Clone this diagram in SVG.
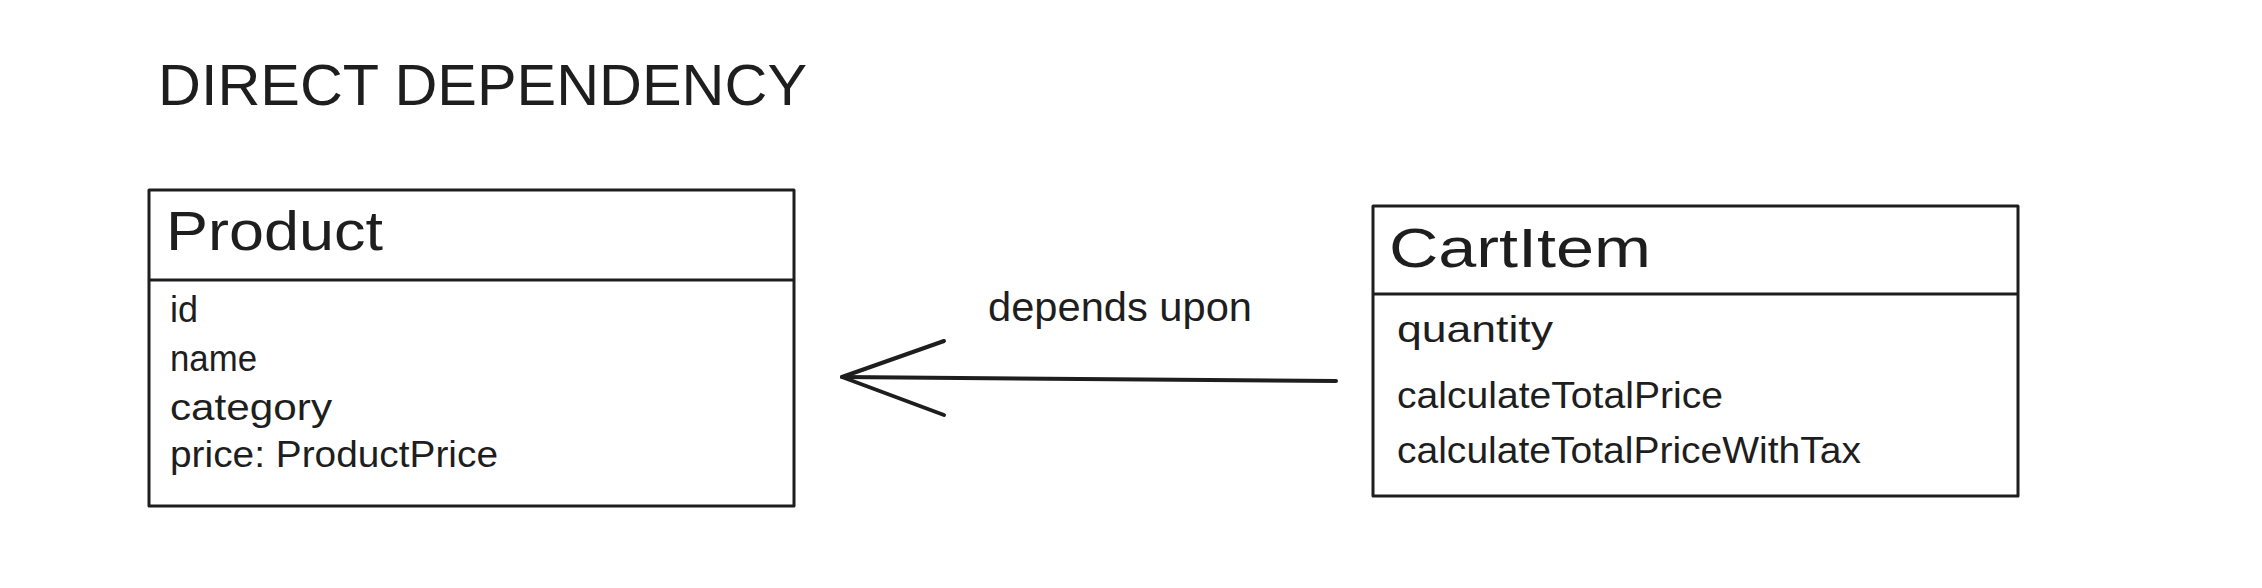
<svg xmlns="http://www.w3.org/2000/svg" width="2262" height="588" viewBox="0 0 2262 588">
<style>
.box{fill:none;stroke:#1e1e1e;stroke-width:3;stroke-linejoin:round}
.t{font-family:"Liberation Sans",Arial,sans-serif;fill:#1e1e1e}
.title{font-size:57px}
.head{font-size:56px}
.row{font-size:36px}
.lbl{font-size:40px}
.conn{fill:none;stroke:#1e1e1e;stroke-width:4;stroke-linecap:round;stroke-linejoin:round}
</style>
<rect width="2262" height="588" fill="#ffffff"/>
<text class="t title" x="158" y="105" textLength="649" lengthAdjust="spacingAndGlyphs">DIRECT DEPENDENCY</text>
<g id="product">
<rect class="box" x="149" y="190" width="645" height="316"/>
<line class="box" x1="149" y1="280" x2="794" y2="280"/>
<text class="t head" x="166" y="250" textLength="217" lengthAdjust="spacingAndGlyphs">Product</text>
<text class="t row" x="170" y="322">id</text>
<text class="t row" x="170" y="371" textLength="87" lengthAdjust="spacingAndGlyphs">name</text>
<text class="t row" x="170" y="420" textLength="162" lengthAdjust="spacingAndGlyphs">category</text>
<text class="t row" x="170" y="467" textLength="328" lengthAdjust="spacingAndGlyphs">price: ProductPrice</text>
</g>
<g id="cartitem">
<rect class="box" x="1373" y="206" width="645" height="290"/>
<line class="box" x1="1373" y1="294" x2="2018" y2="294"/>
<text class="t head" x="1389" y="267" textLength="262" lengthAdjust="spacingAndGlyphs">CartItem</text>
<text class="t row" x="1397" y="342" textLength="156" lengthAdjust="spacingAndGlyphs">quantity</text>
<text class="t row" x="1397" y="408" textLength="326" lengthAdjust="spacingAndGlyphs">calculateTotalPrice</text>
<text class="t row" x="1397" y="463" textLength="464" lengthAdjust="spacingAndGlyphs">calculateTotalPriceWithTax</text>
</g>
<g id="connectors">
<path class="conn" d="M1336 381 L842 377"/>
<path class="conn" d="M944 341 L842 377 L944 415"/>
<text class="t lbl" x="988" y="321" textLength="264" lengthAdjust="spacingAndGlyphs">depends upon</text>
</g>
</svg>
